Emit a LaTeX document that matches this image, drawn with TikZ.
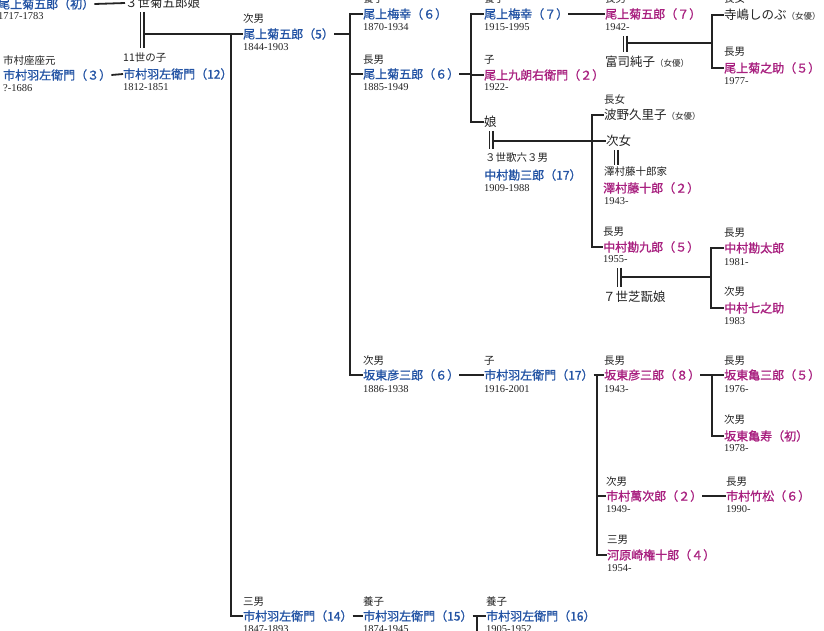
\documentclass[tikz,border=0pt]{standalone}
\usepackage{fontspec}
\setmainfont{Liberation Serif}
\newfontfamily\cjk{Noto Sans CJK JP}
\newfontfamily\cjkn{Noto Sans CJK JP}[FakeBold=1.2]
\definecolor{nblue}{RGB}{36,84,164}
\definecolor{nmag}{RGB}{168,32,127}
\definecolor{ink}{RGB}{35,35,35}
\begin{document}
\begin{tikzpicture}[x=1pt,y=-1pt,
  every node/.style={inner sep=0pt, anchor=west},
  nm/.style={font=\cjkn\fontsize{12}{12}\selectfont},
  bl/.style={nm, text=nblue},
  mg/.style={nm, text=nmag},
  bk/.style={font=\cjk\fontsize{12.5}{12.5}\selectfont, text=ink},
  lb/.style={font=\cjk\fontsize{10.5}{10.5}\selectfont, text=ink},
  yr/.style={font=\fontsize{10.5}{10.5}\selectfont, text=ink},
  ln/.style={line width=1.8pt, draw=ink},
  dbl/.style={draw=ink, double=white, double distance=1.8pt, line width=1.6pt}
]
\useasboundingbox (0,0) rectangle (824,630);
\newcommand{\jy}[1]{{\fontsize{8.5}{8.5}\selectfont #1}}

% --- people ---
\node[bl] (kiku1) at (-2,4) {尾上菊五郎（初）};
\node[yr] (kiku1y) at (-2,16) {1717-1783};
\node[bk] (kmus) at (125,3) {３世菊五郎娘};

\node[lb] (uza3l) at (3,60) {市村座座元};
\node[bl] (uza3) at (3,75) {市村羽左衛門（３）};
\node[yr] (uza3y) at (3,88) {?-1686};

\node[lb] (uza12l) at (123,58) {11世の子};
\node[bl] (uza12) at (123,74) {市村羽左衛門（12）};
\node[yr] (uza12y) at (123,87) {1812-1851};

\node[lb] (kiku5l) at (243,19) {次男};
\node[bl] (kiku5) at (243,34) {尾上菊五郎（5）};
\node[yr] (kiku5y) at (243,47) {1844-1903};

\node[lb] (baiko6l) at (363,-1) {養子};
\node[bl] (baiko6) at (363,14) {尾上梅幸（６）};
\node[yr] (baiko6y) at (363,27) {1870-1934};

\node[lb] (kiku6l) at (363,60) {長男};
\node[bl] (kiku6) at (363,74) {尾上菊五郎（６）};
\node[yr] (kiku6y) at (363,87) {1885-1949};

\node[lb] (hiko6l) at (363,361) {次男};
\node[bl] (hiko6) at (363,375) {坂東彦三郎（６）};
\node[yr] (hiko6y) at (363,389) {1886-1938};

\node[lb] (baiko7l) at (484,-1) {養子};
\node[bl] (baiko7) at (484,14) {尾上梅幸（７）};
\node[yr] (baiko7y) at (484,27) {1915-1995};

\node[lb] (kuro2l) at (484,60) {子};
\node[mg] (kuro2) at (484,75) {尾上九朗右衛門（２）};
\node[yr] (kuro2y) at (484,87) {1922-};

\node[bk] (musume) at (484,122) {娘};

\node[lb] (kan17l) at (485,158) {３世歌六３男};
\node[bl] (kan17) at (484,175) {中村勘三郎（17）};
\node[yr] (kan17y) at (484,188) {1909-1988};

\node[lb] (kiku7l) at (605,-1) {長男};
\node[mg] (kiku7) at (605,14) {尾上菊五郎（７）};
\node[yr] (kiku7y) at (605,27) {1942-};
\node[bk] (fuji) at (605,62) {富司純子\jy{（女優）}};

\node[lb] (shinobul) at (724,-1) {長女};
\node[bk] (shinobu) at (724,15) {寺嶋しのぶ\jy{（女優）}};
\node[lb] (kikunl) at (724,52) {長男};
\node[mg] (kikun) at (724,68) {尾上菊之助（５）};
\node[yr] (kikuny) at (724,81) {1977-};

\node[lb] (kurikol) at (604,100) {長女};
\node[bk] (kuriko) at (604,115) {波野久里子\jy{（女優）}};
\node[bk] (jijo) at (606,141) {次女};
\node[lb] (tojurol) at (604,172) {澤村藤十郎家};
\node[mg] (tojuro) at (603,188) {澤村藤十郎（２）};
\node[yr] (tojuroy) at (604,201) {1943-};

\node[lb] (kankurol) at (603,232) {長男};
\node[mg] (kankuro) at (603,247) {中村勘九郎（５）};
\node[yr] (kankuroy) at (603,259) {1955-};
\node[bk] (shikan) at (603,297) {７世芝翫娘};

\node[lb] (kantarol) at (724,233) {長男};
\node[mg] (kantaro) at (724,248) {中村勘太郎};
\node[yr] (kantaroy) at (724,262) {1981-};
\node[lb] (shichil) at (724,292) {次男};
\node[mg] (shichi) at (724,308) {中村七之助};
\node[yr] (shichiy) at (724,321) {1983};

\node[lb] (uza17l) at (484,361) {子};
\node[bl] (uza17) at (484,375) {市村羽左衛門（17）};
\node[yr] (uza17y) at (484,389) {1916-2001};

\node[lb] (hiko8l) at (604,361) {長男};
\node[mg] (hiko8) at (604,375) {坂東彦三郎（８）};
\node[yr] (hiko8y) at (604,389) {1943-};

\node[lb] (kame5l) at (724,361) {長男};
\node[mg] (kame5) at (724,375) {坂東亀三郎（５）};
\node[yr] (kame5y) at (724,389) {1976-};
\node[lb] (kamejul) at (724,420) {次男};
\node[mg] (kameju) at (724,436) {坂東亀寿（初）};
\node[yr] (kamejuy) at (724,448) {1978-};

\node[lb] (man2l) at (606,482) {次男};
\node[mg] (man2) at (606,496) {市村萬次郎（２）};
\node[yr] (man2y) at (606,509) {1949-};
\node[lb] (take6l) at (726,482) {長男};
\node[mg] (take6) at (726,496) {市村竹松（６）};
\node[yr] (take6y) at (726,509) {1990-};
\node[lb] (gon4l) at (607,540) {三男};
\node[mg] (gon4) at (607,555) {河原崎権十郎（４）};
\node[yr] (gon4y) at (607,568) {1954-};

\node[lb] (uza14l) at (243,602) {三男};
\node[bl] (uza14) at (243,616) {市村羽左衛門（14）};
\node[yr] (uza14y) at (243,629) {1847-1893};
\node[lb] (uza15l) at (363,602) {養子};
\node[bl] (uza15) at (363,616) {市村羽左衛門（15）};
\node[yr] (uza15y) at (363,629) {1874-1945};
\node[lb] (uza16l) at (486,602) {養子};
\node[bl] (uza16) at (486,616) {市村羽左衛門（16）};
\node[yr] (uza16y) at (486,629) {1905-1952};

% --- bus coordinates ---
\coordinate (d1) at (142,0);
\coordinate (b1) at (231,0);
\coordinate (b2) at (350,0);
\coordinate (b3) at (471,0);
\coordinate (d2) at (625,0);
\coordinate (b4) at (712,0);
\coordinate (d3) at (491,0);
\coordinate (b5) at (592,0);
\coordinate (d4) at (616,0);
\coordinate (d5) at (619,0);
\coordinate (b6) at (711,0);
\coordinate (b7) at (597,0);
\coordinate (b8) at (712,0);
\coordinate (down) at (477,640);

% --- connectors ---
\draw[ln] (kiku1.east) -- (kmus.west);
\draw[ln] (uza3.east) -- (uza12.west);
\draw[ln] (d1 |- kiku5.west) -- (kiku5.west);
\draw[dbl] ([yshift=-3pt]d1 |- kmus.south) -- ([yshift=5pt]d1 |- uza12l.north);
\draw[ln] (b1 |- kiku5.west) |- (uza14.west);

\draw[ln] (kiku5.east) -- (b2 |- kiku5.east);
\draw[ln] (baiko6.west) -| (b2 |- hiko6.west) -- (hiko6.west);
\draw[ln] (b2 |- kiku6.west) -- (kiku6.west);

\draw[ln] (uza14.east) -- (uza15.west);
\draw[ln] (uza15.east) -- (uza16.west);
\draw[ln] (down |- uza16.west) -- (down);

\draw[ln] (kiku6.east) -- (b3 |- kiku6.east);
\draw[ln] (baiko7.west) -| (b3 |- musume.west) -- (musume.west);
\draw[ln] (b3 |- kuro2.west) -- (kuro2.west);

\draw[ln] (baiko7.east) -- (kiku7.west);
\draw[ln] (d2 |- 0,43) -- (b4 |- 0,43);
\draw[dbl] ([yshift=-5pt]d2 |- kiku7y.south) -- ([yshift=4pt]d2 |- fuji.north);
\draw[ln] (shinobu.west) -| (b4 |- kikun.west) -- (kikun.west);

\draw[ln] (d3 |- jijo.west) -- (jijo.west);
\draw[dbl] ([yshift=-3pt]d3 |- musume.south) -- ([yshift=4pt]d3 |- kan17l.north);
\draw[ln] (kuriko.west) -| (b5 |- kankuro.west) -- (kankuro.west);
\draw[dbl] ([yshift=-3pt]d4 |- jijo.south) -- ([yshift=2pt]d4 |- tojurol.north);

\draw[ln] (d5 |- 0,277) -- (b6 |- 0,277);
\draw[dbl] ([yshift=-5pt]d5 |- kankuroy.south) -- ([yshift=4pt]d5 |- shikan.north);
\draw[ln] (kantaro.west) -| (b6 |- shichi.west) -- (shichi.west);

\draw[ln] (hiko6.east) -- (uza17.west);
\draw[ln] (uza17.east) -- (hiko8.west);
\draw[ln] (b7 |- hiko8.west) |- (gon4.west);
\draw[ln] (b7 |- man2.west) -- (man2.west);

\draw[ln] (hiko8.east) -- (kame5.west);
\draw[ln] (b8 |- kame5.west) |- (kameju.west);
\draw[ln] (man2.east) -- (take6.west);
\end{tikzpicture}
\end{document}
